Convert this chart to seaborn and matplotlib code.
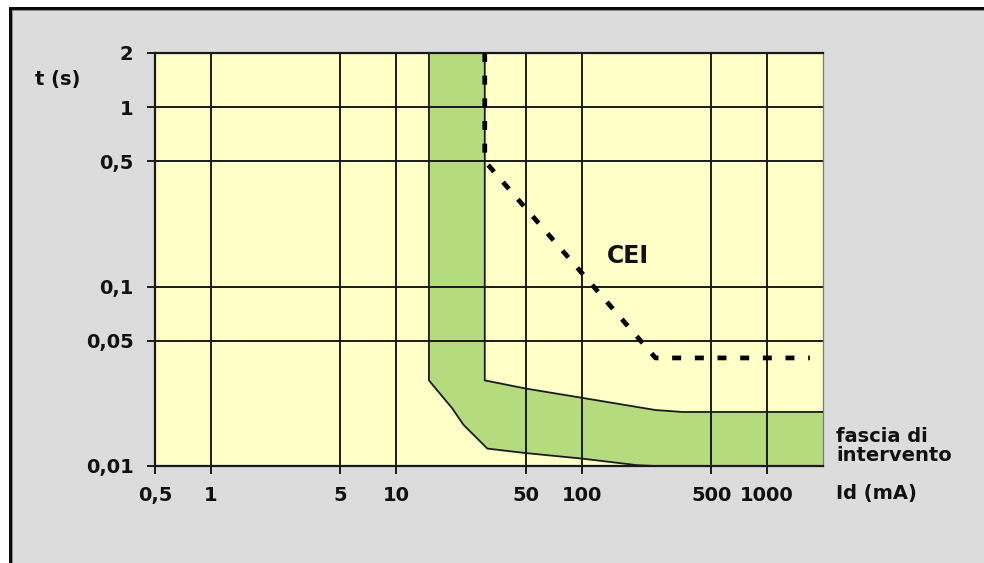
import matplotlib
matplotlib.use("Agg")
import matplotlib.pyplot as plt
import matplotlib.patches as mpatches
import seaborn as sns
import pandas as pd

# ---- data ----
x_ticks = [0.5, 1, 5, 10, 50, 100, 500, 1000]
x_tick_labels = ["0,5", "1", "5", "10", "50", "100", "500", "1000"]
y_ticks = [0.01, 0.05, 0.1, 0.5, 1, 2]
y_tick_labels = ["0,01", "0,05", "0,1", "0,5", "1", "2"]

# CEI limit curve (dashed)
cei_id = [30, 30, 250, 1700]
cei_t = [2, 0.5, 0.04, 0.04]

# intervention band: left/lower boundary
band_low_id = [15, 15, 20, 23, 31, 50, 100, 200, 250]
band_low_t = [2, 0.03, 0.021, 0.017, 0.0125, 0.0118, 0.011, 0.0101, 0.01]
# right/upper boundary
band_up_id = [30, 30, 50, 100, 250, 350, 2000]
band_up_t = [2, 0.03, 0.027, 0.024, 0.0205, 0.02, 0.02]

XMIN, XMAX = 0.5, 2000
YMIN, YMAX = 0.01, 2

sns.set_theme(style="white")
plt.rcParams['font.family'] = ['DejaVu Sans']

W, H = 984, 563
fig = plt.figure(figsize=(W / 100, H / 100), dpi=100, facecolor="white")

def fx(px):
    return px / W

def fy(py):
    return 1 - py / H

# frame: black top & left bars, gray background
fig.patches.append(mpatches.Rectangle((fx(9), 0), 1, fy(7), transform=fig.transFigure,
                                      facecolor="#0a0a0a", edgecolor="none", zorder=-10))
fig.patches.append(mpatches.Rectangle((fx(12), 0), 1, fy(10), transform=fig.transFigure,
                                      facecolor="#8c8c8c", edgecolor="none", zorder=-9))
fig.patches.append(mpatches.Rectangle((fx(13), 0), 1, fy(11), transform=fig.transFigure,
                                      facecolor="#dcdcdc", edgecolor="none", zorder=-8))

ax = fig.add_axes([fx(155), fy(466), fx(823) - fx(155), fy(53) - fy(466)])
ax.set_facecolor("#ffffc8")
ax.set_xscale("log")
ax.set_yscale("log")
ax.set_xlim(XMIN, XMAX)
ax.set_ylim(YMIN, YMAX)

# green band polygon from the two boundaries
poly_x = band_up_id + [XMAX] + band_low_id[::-1]
poly_y = band_up_t + [YMIN] + band_low_t[::-1]
ax.fill(poly_x, poly_y, color="#b4dc7f", edgecolor="none", zorder=1)

# grid
for xv in x_ticks[1:]:
    ax.axvline(xv, color="#1a1a1a", lw=1.4, zorder=2)
for yv in y_ticks[1:-1]:
    ax.axhline(yv, color="#1a1a1a", lw=1.4, zorder=2)

# band boundaries
low_df = pd.DataFrame({"Id": band_low_id, "t": band_low_t})
up_df = pd.DataFrame({"Id": band_up_id, "t": band_up_t})
sns.lineplot(data=low_df, x="Id", y="t", sort=False, estimator=None,
             color="#1a1a1a", lw=1.3, ax=ax, zorder=3)
sns.lineplot(data=up_df, x="Id", y="t", sort=False, estimator=None,
             color="#1a1a1a", lw=1.3, ax=ax, zorder=3)

# CEI dashed curve
cei_df = pd.DataFrame({"Id": cei_id, "t": cei_t})
sns.lineplot(data=cei_df, x="Id", y="t", sort=False, estimator=None,
             color="black", lw=3.4, ax=ax, zorder=4,
             linestyle=(0, (1.9, 2.9)), dash_capstyle="butt")

ax.text(fx(628), fy(256), "CEI", transform=fig.transFigure, fontsize=17,
        fontweight="bold", ha="center", va="center", color="#111111", zorder=5)

# axes styling
for side in ["top", "left", "bottom"]:
    ax.spines[side].set_color("#1a1a1a")
    ax.spines[side].set_linewidth(1.6)
ax.spines["right"].set_color("#777777")
ax.spines["right"].set_linewidth(0.9)

ax.set_xticks(x_ticks)
ax.set_xticklabels(x_tick_labels)
ax.set_yticks(y_ticks)
ax.set_yticklabels(y_tick_labels)
ax.minorticks_off()
ax.tick_params(axis="both", which="major", direction="out", length=5.5, width=1.4,
               color="#1a1a1a", labelsize=14, labelcolor="#111111",
               bottom=True, left=True)
ax.tick_params(axis="x", pad=9)
ax.tick_params(axis="y", pad=10)
for lbl in ax.get_xticklabels() + ax.get_yticklabels():
    lbl.set_fontweight("bold")
ax.set_xlabel("")
ax.set_ylabel("")

fig.text(fx(35), fy(80), "t (s)", fontsize=14, fontweight="bold", ha="left",
         va="center", color="#111111")
fig.text(fx(836), fy(494), "Id (mA)", fontsize=14, fontweight="bold", ha="left",
         va="center", color="#111111")
fig.text(fx(836), fy(446), "fascia di\nintervento", fontsize=14, fontweight="bold",
         ha="left", va="center", linespacing=1.0, color="#111111")

fig.savefig("out.png", dpi=100, facecolor=fig.get_facecolor())
